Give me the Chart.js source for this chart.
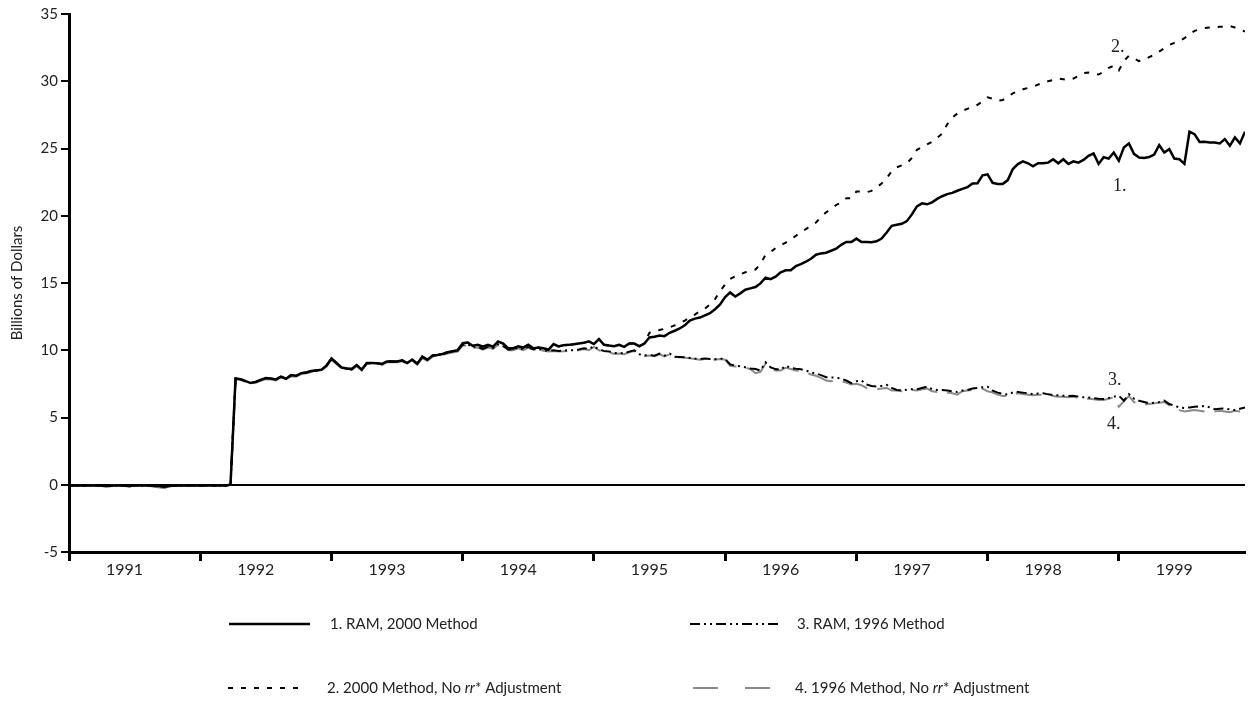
<!DOCTYPE html>
<html>
<head>
<meta charset="utf-8">
<script src="https://cdn.jsdelivr.net/npm/chart.js@4.4.1/dist/chart.umd.min.js"></script>
<style>
  html, body { margin: 0; padding: 0; background: #fff; }
  #wrap { width: 1248px; height: 708px; }
</style>
</head>
<body>
<div id="wrap"><canvas id="ramChart" width="1248" height="708"></canvas></div>
<script>
// biweekly periods, Jan 1991 .. Dec 1999
var years = ['1991', '1992', '1993', '1994', '1995', '1996', '1997', '1998', '1999'];
var perYear = 26;
var labelAt = 11; // year label sits ~11 periods into the year

// 1. RAM, 2000 Method
var ram2000 = [
  -0.05, -0.05, -0.05, -0.05, -0.05, -0.05, -0.05, -0.1, -0.1, -0.05,
  -0.05, -0.05, -0.1, -0.05, -0.05, -0.05, -0.05, -0.1, -0.1, -0.15,
  -0.1, -0.05, -0.05, -0.05, -0.05, -0.05, -0.05, -0.05, -0.05, -0.05,
  -0.05, -0.05, 0, 7.9, 7.85, 7.7, 7.56, 7.65, 7.8, 7.93,
  7.9, 7.83, 8.03, 7.88, 8.15, 8.1, 8.3, 8.35, 8.45, 8.5,
  8.55, 8.85, 9.39, 9.05, 8.72, 8.65, 8.6, 8.9, 8.56, 9.05,
  9.05, 9.03, 8.98, 9.17, 9.17, 9.17, 9.25, 9.05, 9.3, 9.0,
  9.52, 9.3, 9.6, 9.64, 9.72, 9.85, 9.93, 10.0, 10.53, 10.58,
  10.33, 10.4, 10.26, 10.41, 10.26, 10.66, 10.5, 10.16, 10.14, 10.3,
  10.2, 10.41, 10.14, 10.2, 10.15, 10.04, 10.46, 10.29, 10.38, 10.4,
  10.44, 10.5, 10.55, 10.66, 10.46, 10.83, 10.41, 10.35, 10.3, 10.41,
  10.25, 10.5, 10.5, 10.3, 10.5, 10.95, 11.0, 11.1, 11.05, 11.3,
  11.45, 11.62, 11.85, 12.2, 12.35, 12.43, 12.6, 12.75, 13.05, 13.4,
  13.95, 14.3, 14.0, 14.23, 14.5, 14.6, 14.7, 14.97, 15.4, 15.29,
  15.47, 15.8, 15.95, 15.95, 16.25, 16.4, 16.58, 16.8, 17.1, 17.2,
  17.25, 17.4, 17.55, 17.84, 18.05, 18.05, 18.3, 18.05, 18.05, 18.03,
  18.1, 18.3, 18.75, 19.25, 19.33, 19.4, 19.6, 20.1, 20.7, 20.92,
  20.85, 21.0, 21.25, 21.45, 21.61, 21.7, 21.86, 22.0, 22.12, 22.4,
  22.42, 23.0, 23.08, 22.45, 22.36, 22.36, 22.65, 23.47, 23.84, 24.04,
  23.9, 23.67, 23.9, 23.9, 23.95, 24.2, 23.9, 24.2, 23.85, 24.05,
  23.95, 24.15, 24.45, 24.64, 23.85, 24.35, 24.25, 24.7, 24.1, 25.08,
  25.38, 24.6, 24.33, 24.3, 24.36, 24.55, 25.25, 24.7, 24.95, 24.25,
  24.2, 23.86, 26.25, 26.07, 25.48, 25.5, 25.45, 25.45, 25.38, 25.7,
  25.2, 25.82, 25.38, 26.25
];

// 2. 2000 Method, No rr* Adjustment
var noAdj2000 = [
  -0.05, -0.05, -0.05, -0.05, -0.05, -0.05, -0.05, -0.1, -0.1, -0.05,
  -0.05, -0.05, -0.1, -0.05, -0.05, -0.05, -0.05, -0.1, -0.1, -0.15,
  -0.1, -0.05, -0.05, -0.05, -0.05, -0.05, -0.05, -0.05, -0.05, -0.05,
  -0.05, -0.05, 0, 7.9, 7.85, 7.7, 7.56, 7.65, 7.8, 7.93,
  7.9, 7.83, 8.03, 7.88, 8.15, 8.1, 8.3, 8.35, 8.45, 8.5,
  8.55, 8.85, 9.39, 9.05, 8.72, 8.65, 8.6, 8.9, 8.56, 9.05,
  9.05, 9.03, 8.98, 9.17, 9.17, 9.17, 9.25, 9.05, 9.3, 9.0,
  9.52, 9.3, 9.6, 9.64, 9.72, 9.85, 9.93, 10.0, 10.53, 10.58,
  10.33, 10.4, 10.26, 10.41, 10.26, 10.66, 10.5, 10.16, 10.14, 10.3,
  10.2, 10.41, 10.14, 10.2, 10.15, 10.04, 10.46, 10.29, 10.38, 10.4,
  10.44, 10.5, 10.55, 10.66, 10.46, 10.83, 10.41, 10.35, 10.3, 10.41,
  10.25, 10.5, 10.5, 10.3, 10.5, 11.3, 11.45, 11.5, 11.6, 11.7,
  11.85, 12.0, 12.2, 12.44, 12.65, 12.9, 13.1, 13.4, 13.8, 14.4,
  14.9, 15.3, 15.5, 15.65, 15.8, 15.9, 16.0, 16.4, 17.1, 17.3,
  17.6, 17.8, 18.0, 18.25, 18.5, 18.8, 19.0, 19.25, 19.5, 19.9,
  20.25, 20.5, 20.8, 21.0, 21.3, 21.3, 21.8, 21.8, 21.75, 21.85,
  22.1, 22.4, 22.8, 23.3, 23.6, 23.75, 23.9, 24.3, 24.9, 25.1,
  25.3, 25.5, 25.8, 26.1, 26.8, 27.3, 27.6, 27.8, 27.95, 28.1,
  28.25, 28.5, 28.8, 28.7, 28.55, 28.6, 28.85, 29.1, 29.25, 29.4,
  29.5, 29.6, 29.75, 29.9, 30.0, 30.1, 30.2, 30.15, 30.1, 30.2,
  30.4, 30.6, 30.65, 30.55, 30.5, 30.7, 31.0, 31.15, 30.8, 31.5,
  31.9, 31.7, 31.5, 31.6, 31.8, 31.95, 32.2, 32.45, 32.7, 32.85,
  33.0, 33.2, 33.5, 33.75, 33.85, 33.95, 34.0, 34.0, 34.05, 34.05,
  34.1, 34.0, 33.85, 33.7
];

// 3. RAM, 1996 Method
var ram1996 = [
  -0.05, -0.05, -0.05, -0.05, -0.05, -0.05, -0.05, -0.1, -0.1, -0.05,
  -0.05, -0.05, -0.1, -0.05, -0.05, -0.05, -0.05, -0.1, -0.1, -0.15,
  -0.1, -0.05, -0.05, -0.05, -0.05, -0.05, -0.05, -0.05, -0.05, -0.05,
  -0.05, -0.05, 0, 7.9, 7.85, 7.7, 7.56, 7.65, 7.8, 7.93,
  7.9, 7.83, 8.03, 7.88, 8.15, 8.1, 8.3, 8.35, 8.45, 8.5,
  8.55, 8.85, 9.39, 9.05, 8.72, 8.65, 8.6, 8.9, 8.56, 9.05,
  9.05, 9.03, 8.98, 9.17, 9.17, 9.17, 9.25, 9.05, 9.3, 9.0,
  9.52, 9.3, 9.6, 9.64, 9.72, 9.85, 9.93, 10.0, 10.4, 10.45,
  10.2, 10.25, 10.1, 10.25, 10.15, 10.45, 10.3, 10.05, 10.05, 10.2,
  10.05, 10.25, 10.05, 10.1, 10.0, 9.95, 10.0, 9.95, 9.98, 10.0,
  10.0, 10.05, 10.15, 10.1, 10.3, 10.05, 9.95, 9.9, 9.8, 9.8,
  9.78, 9.9, 10.0, 9.7, 9.62, 9.65, 9.6, 9.75, 9.6, 9.75,
  9.52, 9.5, 9.47, 9.43, 9.38, 9.34, 9.38, 9.35, 9.34, 9.38,
  9.34, 8.95, 8.85, 8.8, 8.73, 8.65, 8.6, 8.5, 9.1, 8.73,
  8.6, 8.55, 8.85, 8.7, 8.62, 8.58, 8.5, 8.35, 8.28, 8.15,
  8.0, 7.98, 7.95, 7.9, 7.75, 7.55, 7.7, 7.75, 7.45, 7.35,
  7.3, 7.35, 7.43, 7.2, 7.05, 7.02, 7.06, 7.1, 7.1, 7.2,
  7.29, 7.1, 7.04, 7.05, 7.0, 6.95, 6.9, 7.0, 7.05, 7.15,
  7.2, 7.25, 7.29, 7.0, 6.85, 6.75, 6.7, 6.86, 6.9, 6.85,
  6.8, 6.74, 6.78, 6.8, 6.72, 6.67, 6.65, 6.62, 6.6, 6.62,
  6.55, 6.5, 6.48, 6.44, 6.4, 6.37, 6.45, 6.55, 6.62, 6.25,
  6.74, 6.4, 6.24, 6.15, 6.05, 6.1, 6.15, 6.25, 6.0, 5.87,
  5.75, 5.7, 5.75, 5.8, 5.82, 5.87, 5.75, 5.62, 5.65, 5.67,
  5.6, 5.55, 5.65, 5.75
];

// 4. 1996 Method, No rr* Adjustment
var noAdj1996 = [
  -0.05, -0.05, -0.05, -0.1, -0.05, -0.05, -0.1, -0.15, -0.1, -0.05,
  -0.05, -0.1, -0.15, -0.1, -0.05, -0.05, -0.1, -0.15, -0.2, -0.25,
  -0.15, -0.1, -0.05, -0.05, -0.1, -0.05, -0.05, -0.05, -0.1, -0.05,
  -0.05, -0.05, 0, 7.85, 7.8, 7.62, 7.48, 7.58, 7.72, 7.85,
  7.83, 7.76, 7.95, 7.82, 8.07, 8.03, 8.22, 8.28, 8.38, 8.42,
  8.48, 8.78, 9.28, 8.98, 8.66, 8.58, 8.53, 8.82, 8.5, 8.97,
  8.98, 8.96, 8.9, 9.1, 9.1, 9.1, 9.18, 8.98, 9.22, 8.93,
  9.42, 9.22, 9.5, 9.55, 9.64, 9.76, 9.84, 9.9, 10.35, 10.35,
  10.15, 10.2, 10.05, 10.2, 10.1, 10.4, 10.25, 10.0, 10.0, 10.15,
  10.0, 10.2, 10.0, 10.05, 9.96, 9.9, 9.95, 9.9, 9.92, 9.96,
  9.95, 10.0, 10.09, 10.0, 10.25, 10.0, 9.9, 9.85, 9.72, 9.75,
  9.7, 9.85, 9.95, 9.65, 9.55, 9.6, 9.55, 9.7, 9.55, 9.7,
  9.45, 9.5, 9.45, 9.4, 9.35, 9.3, 9.35, 9.3, 9.3, 9.35,
  9.3, 8.85, 8.8, 8.75, 8.7, 8.6, 8.3, 8.4, 9.0, 8.6,
  8.5, 8.5, 8.7, 8.6, 8.5, 8.45, 8.35, 8.2, 8.1, 7.95,
  7.75, 7.7, 7.75, 7.7, 7.6, 7.45, 7.5, 7.4, 7.2, 7.15,
  7.1, 7.15, 7.2, 7.0, 7.0, 6.95, 7.0, 7.05, 7.0, 7.1,
  7.15, 6.95, 6.9, 6.95, 6.85, 6.8, 6.7, 6.95, 7.0, 7.05,
  7.1, 7.15, 6.95, 6.85, 6.7, 6.6, 6.6, 6.75, 6.8, 6.75,
  6.7, 6.65, 6.7, 6.7, 6.6, 6.6, 6.55, 6.55, 6.5, 6.55,
  6.45, 6.4, 6.4, 6.35, 6.3, 6.3, 6.4, 6.5, 5.8, 6.2,
  6.6, 6.15, 6.05, 5.95, 6.0, 6.05, 6.1, 6.15, 5.9, 5.7,
  5.55, 5.45, 5.5, 5.55, 5.5, 5.45, 5.5, 5.45, 5.5, 5.45,
  5.4, 5.5, 5.45, 5.6
];

var seriesNames = [
  '1. RAM, 2000 Method',
  '2. 2000 Method, No rr* Adjustment',
  '3. RAM, 1996 Method',
  '4. 1996 Method, No rr* Adjustment'
];

var periods = ram2000.map(function (v, i) { return i; });

var FONT = 'Lato, "Open Sans", sans-serif';

// "1." .. "4." tags next to the lines (period index, value)
var tags = [
  { text: '1.', period: 208.2, value: 22.2 },
  { text: '2.', period: 207.8, value: 32.5 },
  { text: '3.', period: 207.2, value: 7.8 },
  { text: '4.', period: 207.0, value: 4.5 }
];

var dashes = [[], [5, 8], [10, 4, 2, 4, 2, 4], [26, 10]];

// draws the numbered tags and the 2x2 legend under the axis
var extras = {
  id: 'extras',
  afterDraw: function (chart) {
    var c = chart.ctx;
    var xs = chart.scales.x, ys = chart.scales.y;
    c.save();
    c.fillStyle = '#222';
    c.font = '18px "Liberation Serif", serif';
    c.textAlign = 'center';
    c.textBaseline = 'middle';
    tags.forEach(function (t) {
      c.fillText(t.text, xs.getPixelForValue(t.period), ys.getPixelForValue(t.value));
    });

    var items = [
      { ds: 0, x0: 229, x1: 310, tx: 330, y: 624 },
      { ds: 2, x0: 690, x1: 780, tx: 797, y: 624 },
      { ds: 1, x0: 228, x1: 305, tx: 327, y: 688 },
      { ds: 3, x0: 693, x1: 770, tx: 795, y: 688, dash: [25, 27] }
    ];
    items.forEach(function (it) {
      var ds = chart.data.datasets[it.ds];
      c.beginPath();
      c.setLineDash(it.dash || ds.borderDash || []);
      c.strokeStyle = ds.borderColor;
      c.lineWidth = ds.borderWidth;
      c.moveTo(it.x0, it.y);
      c.lineTo(it.x1, it.y);
      c.stroke();
      c.setLineDash([]);

      // text, with "rr" in italics
      var parts = seriesNames[it.ds].split('rr*');
      c.textAlign = 'left';
      c.fillStyle = '#222';
      var x = it.tx;
      c.font = '15px ' + FONT;
      c.fillText(parts[0], x, it.y);
      if (parts.length > 1) {
        x += c.measureText(parts[0]).width;
        c.font = 'italic 15px ' + FONT;
        c.fillText('rr', x, it.y);
        x += c.measureText('rr').width;
        c.font = '15px ' + FONT;
        c.fillText('*' + parts[1], x, it.y);
      }
    });
    c.restore();
  }
};

var ctx = document.getElementById('ramChart').getContext('2d');
var chart = new Chart(ctx, {
  type: 'line',
  data: {
    labels: periods,
    datasets: [
      { label: seriesNames[0], data: ram2000, borderColor: '#000', borderWidth: 2.5, borderDash: dashes[0] },
      { label: seriesNames[1], data: noAdj2000, borderColor: '#000', borderWidth: 2, borderDash: dashes[1] },
      { label: seriesNames[2], data: ram1996, borderColor: '#000', borderWidth: 2, borderDash: dashes[2] },
      { label: seriesNames[3], data: noAdj1996, borderColor: '#8a8a8a', borderWidth: 2, borderDash: dashes[3] }
    ]
  },
  options: {
    responsive: false,
    animation: false,
    layout: { padding: { top: 14, right: 3, left: 0, bottom: 0 } },
    elements: { point: { radius: 0 }, line: { tension: 0, fill: false } },
    plugins: { legend: { display: false }, tooltip: { enabled: false } },
    scales: {
      x: {
        type: 'linear',
        min: 0,
        max: ram2000.length - 1,
        border: { color: '#000', width: 3 },
        grid: {
          drawOnChartArea: false,
          tickLength: 9,
          tickWidth: 3,
          tickColor: function (c) {
            return c.tick && c.tick.value % perYear === 0 ? '#000' : 'rgba(0,0,0,0)';
          }
        },
        afterBuildTicks: function (scale) {
          var t = [];
          years.forEach(function (y, k) {
            t.push({ value: k * perYear });
            t.push({ value: k * perYear + labelAt });
          });
          scale.ticks = t;
        },
        ticks: {
          autoSkip: false,
          maxRotation: 0,
          padding: -1,
          color: '#222',
          font: { family: FONT, size: 16 },
          callback: function (v) {
            return v % perYear === labelAt ? years[(v - labelAt) / perYear] : '';
          }
        },
        afterFit: function (scale) { scale.height = 156; }
      },
      y: {
        min: -5,
        max: 35,
        border: { color: '#000', width: 3 },
        grid: {
          color: function (c) { return c.tick && c.tick.value === 0 ? '#000' : 'rgba(0,0,0,0)'; },
          lineWidth: 2,
          tickColor: '#000',
          tickLength: 8,
          tickWidth: 2
        },
        ticks: { stepSize: 5, color: '#222', padding: 3, font: { family: FONT, size: 15 } },
        title: {
          display: true, text: 'Billions of Dollars', color: '#222',
          font: { family: FONT, size: 15 }, padding: { top: 8, bottom: 0 }
        },
        afterFit: function (scale) { scale.width = 69; }
      }
    }
  },
  plugins: [extras]
});
</script>
</body>
</html>
